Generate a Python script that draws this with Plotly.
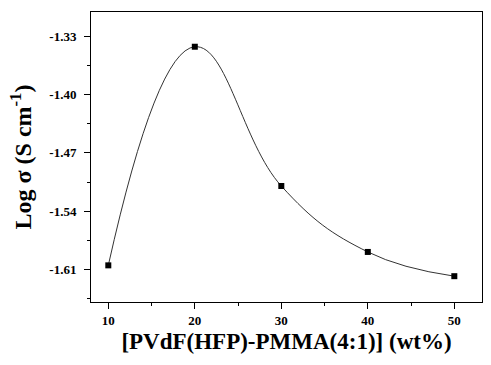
import plotly.graph_objects as go

x_wt = [10, 20, 30, 40, 50]
log_sigma = [-1.605, -1.3425, -1.5097, -1.5889, -1.618]
y_ticks = [-1.61, -1.54, -1.47, -1.40, -1.33]
x_ticks = [10, 20, 30, 40, 50]

font_fam = "Liberation Serif"

fig = go.Figure()
fig.add_trace(go.Scatter(
    x=x_wt, y=log_sigma, mode="lines+markers",
    line=dict(shape="spline", smoothing=1.2, color="#333333", width=1),
    marker=dict(symbol="square", size=6, color="black"),
    showlegend=False,
))

fig.update_layout(
    width=491, height=365,
    margin=dict(l=91, r=9, t=12, b=63),
    paper_bgcolor="white", plot_bgcolor="white",
    font=dict(family=font_fam, color="black"),
)
fig.update_xaxes(
    range=[8, 53.2], tickvals=x_ticks, ticktext=[str(v) for v in x_ticks],
    ticks="outside", ticklen=6, tickwidth=1, tickcolor="black",
    showline=True, linecolor="black", linewidth=1, mirror=True,
    showgrid=False, zeroline=False, automargin=False,
    tickfont=dict(family=font_fam, size=13, color="black", weight="bold"),
    minor=dict(ticks="outside", ticklen=3, tickcolor="black", tick0=5, dtick=5, showgrid=False),
    title=dict(text="[PVdF(HFP)-PMMA(4:1)] (wt%)",
               font=dict(family=font_fam, size=23, color="black", weight="bold"), standoff=6),
)
fig.update_yaxes(
    range=[-1.649, -1.3008], tickvals=y_ticks, ticktext=["%.2f" % v for v in y_ticks],
    ticks="outside", ticklen=6, tickwidth=1, tickcolor="black",
    showline=True, linecolor="black", linewidth=1, mirror=True,
    showgrid=False, zeroline=False, automargin=False, ticklabelstandoff=5,
    tickfont=dict(family=font_fam, size=13, color="black", weight="bold"),
    minor=dict(ticks="outside", ticklen=3, tickcolor="black", tick0=-1.33, dtick=0.035, showgrid=False),
    title=dict(text="Log σ (S cm<sup>-1</sup>)",
               font=dict(family=font_fam, size=24, color="black", weight="bold"), standoff=10),
)

fig.write_html("out.html", post_script="document.body.style.margin='0';",
               config={"displayModeBar": False})
